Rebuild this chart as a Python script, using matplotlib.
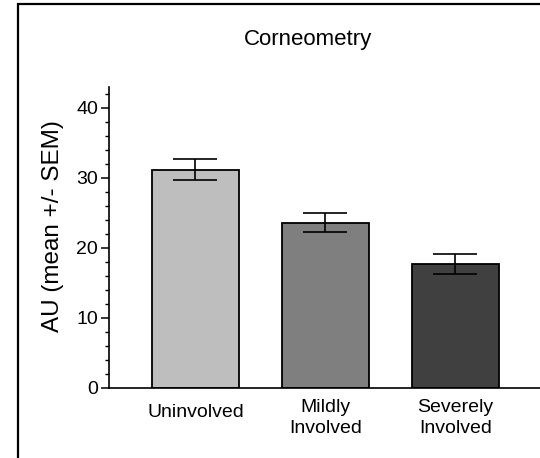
import matplotlib
matplotlib.use("Agg")
import matplotlib.pyplot as plt
import matplotlib.transforms as mtransforms
from matplotlib.patches import Rectangle
from matplotlib.ticker import MultipleLocator

categories = ["Uninvolved", "Mildly\nInvolved", "Severely\nInvolved"]
means = [31.2, 23.6, 17.7]
sems = [1.5, 1.35, 1.4]
colors = ["#BEBEBE", "#7F7F7F", "#404040"]
yticks = [0, 10, 20, 30, 40]

plt.rcParams["font.family"] = ["Liberation Sans", "DejaVu Sans"]

W, H = 540, 458
fig = plt.figure(figsize=(W / 100, H / 100), dpi=100)

# outer frame, open past the right and bottom edges
fig.patches.append(Rectangle((17.5 / W, -0.05), 1.2, 1 - 3.5 / H + 0.05,
                             transform=fig.transFigure, fill=False,
                             edgecolor="black", linewidth=1.6))

ax = fig.add_axes([109 / W, 1 - 388 / H, 1 - 109 / W, (388 - 87) / H])
x = list(range(len(categories)))
ax.bar(x, means, width=0.67, color=colors, edgecolor="black", linewidth=1.3, zorder=2)
ax.errorbar(x, means, yerr=sems, fmt="none", ecolor="black", elinewidth=1.2,
            capsize=15.5, capthick=1.2, zorder=3)

ax.set_xlim(-0.665, 2.65)
ax.set_ylim(0, 43)
ax.set_yticks(yticks)
ax.yaxis.set_minor_locator(MultipleLocator(2))
ax.tick_params(axis="y", which="major", length=6, width=1.1, labelsize=14, pad=2)
ax.tick_params(axis="y", which="minor", length=3, width=1.0)
ax.set_xticks(x)
ax.set_xticklabels(categories, fontsize=14, linespacing=1.3)
ax.tick_params(axis="x", length=0, pad=8)
for lab in ax.get_xticklabels():
    if "\n" not in lab.get_text():
        lab.set_transform(lab.get_transform() +
                          mtransforms.ScaledTranslation(0, -5 / 100, fig.dpi_scale_trans))

for side in ("top", "right"):
    ax.spines[side].set_visible(False)
for side in ("left", "bottom"):
    ax.spines[side].set_linewidth(1.2)

fig.text(308 / W, 1 - 39 / H, "Corneometry", ha="center", va="center", fontsize=16)
fig.text(53 / W, 1 - 226 / H, "AU (mean +/- SEM)", ha="center", va="center",
         rotation=90, fontsize=17.5)

fig.savefig("out.png", dpi=100)
